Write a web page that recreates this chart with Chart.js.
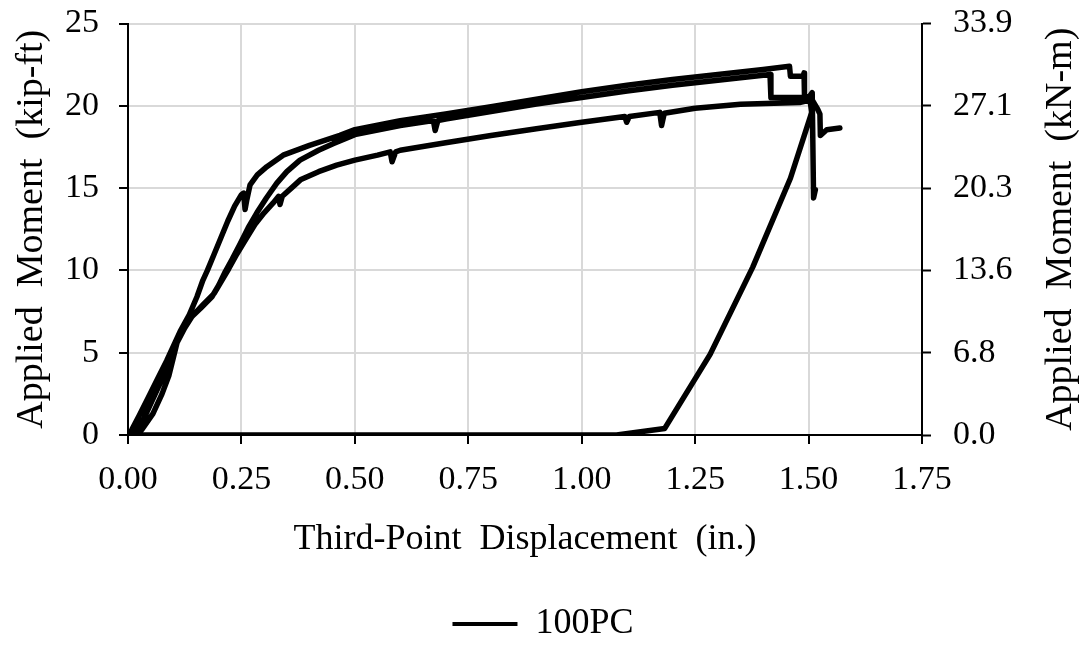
<!DOCTYPE html>
<html>
<head>
<meta charset="utf-8">
<script src="https://cdn.jsdelivr.net/npm/chart.js@4"></script>
<style>
  html, body { margin: 0; padding: 0; background: #ffffff; }
  #wrap { width: 1086px; height: 647px; position: relative; }
</style>
</head>
<body>
<div id="wrap"><canvas id="c" width="1086" height="647"></canvas></div>
<script>
// ---------- data (x = third-point displacement, in.; y = applied moment, kip-ft) ----------
const seriesName = '100PC';
const xTickLabels = ['0.00','0.25','0.50','0.75','1.00','1.25','1.50','1.75'];
const leftTickLabels = ['0','5','10','15','20','25'];
const rightTickLabels = ['0.0','6.8','13.6','20.3','27.1','33.9'];

// first loading (lowest branch)
const loadC = [
  [0,0],[0.03,0.3],[0.055,1.3],[0.075,2.5],[0.09,3.6],[0.1,4.7],[0.108,5.6],[0.125,6.5],
  [0.141,7.2],[0.165,7.9],[0.19,8.6],[0.205,9.3],[0.222,10.1],[0.24,11.0],[0.26,11.9],
  [0.28,12.8],[0.30,13.5],[0.32,14.1],[0.332,14.5],[0.335,14.0],[0.34,14.5],[0.36,15.0],
  [0.38,15.5],[0.42,16.0],[0.46,16.4],[0.5,16.7],[0.55,17.0],[0.578,17.2],[0.582,16.6],
  [0.59,17.2],[0.6,17.3],[0.7,17.75],[0.8,18.2],[0.9,18.6],[1.0,19.0],[1.095,19.35],
  [1.099,19.0],[1.105,19.35],[1.172,19.6],[1.176,18.8],[1.182,19.55],[1.25,19.85],
  [1.35,20.1],[1.48,20.2],[1.503,20.35]
];
// unloading back to zero
const unload = [
  [1.507,19.6],[1.46,15.6],[1.377,10.2],[1.283,4.9],[1.183,0.4],[1.077,0],[0,0]
];
// second loading (middle branch)
const loadB = [
  [0,0],[0.015,0.2],[0.035,1.0],[0.055,2.2],[0.075,3.4],[0.09,4.5],[0.103,5.5],[0.12,6.4],
  [0.141,7.2],[0.16,7.7],[0.185,8.4],[0.2,9.1],[0.214,9.9],[0.23,10.7],[0.247,11.6],
  [0.265,12.6],[0.284,13.5],[0.305,14.4],[0.328,15.3],[0.35,16.0],[0.379,16.7],[0.42,17.3],
  [0.452,17.7],[0.5,18.25],[0.6,18.8],[0.673,19.1],[0.677,18.5],[0.683,19.1],[0.7,19.2],
  [0.8,19.65],[0.9,20.1],[1.0,20.5],[1.1,20.9],[1.2,21.25],[1.3,21.55],[1.4,21.85],
  [1.415,21.9],[1.417,20.5],[1.5,20.5],[1.508,20.8],[1.511,14.4],[1.515,14.9]
];
// third loading (stiffest branch, highest peak)
const loadA = [
  [0,0],[0.008,0.3],[0.025,1.2],[0.045,2.3],[0.065,3.4],[0.085,4.5],[0.1,5.4],[0.115,6.3],
  [0.135,7.3],[0.152,8.4],[0.165,9.4],[0.175,10.0],[0.19,11.0],[0.205,12.0],[0.22,13.0],
  [0.235,13.9],[0.25,14.6],[0.255,14.7],[0.258,13.7],[0.262,14.3],[0.269,15.2],[0.285,15.8],
  [0.306,16.3],[0.342,17.0],[0.4,17.6],[0.467,18.2],[0.5,18.55],[0.6,19.1],[0.7,19.5],
  [0.8,19.95],[0.9,20.4],[1.0,20.85],[1.1,21.25],[1.2,21.6],[1.3,21.9],[1.4,22.2],
  [1.458,22.4],[1.46,21.8],[1.488,21.8],[1.49,22.0],[1.491,20.6],[1.505,20.5],[1.52,19.8],
  [1.525,19.5],[1.526,18.2],[1.54,18.55],[1.569,18.65]
];

// ---------- build one series with breaks between test runs ----------
function toPts(arr) { return arr.map(p => ({x: p[0], y: p[1]})); }
const gap = {x: 0, y: null};
const seriesData = [].concat(toPts(loadC), toPts(unload), [gap], toPts(loadB), [gap], toPts(loadA));

const FONT = '"Liberation Serif", "Times New Roman", serif';

const rightTitlePlugin = {
  id: 'rightTitle',
  afterDraw(chart) {
    const ctx = chart.ctx;
    const a = chart.chartArea;
    ctx.save();
    ctx.fillStyle = '#000';
    ctx.font = '38px ' + FONT;
    ctx.textAlign = 'center';
    ctx.textBaseline = 'middle';
    ctx.translate(1061, (a.top + a.bottom) / 2);
    ctx.rotate(-Math.PI / 2);
    ctx.fillText('Applied  Moment  (kN-m)', 0, 0);
    ctx.restore();
  }
};

function fitVertical(width) {
  return function (s) {
    s.width = width;
    s.paddingTop = 0;
    s.paddingBottom = 0;
  };
}

new Chart(document.getElementById('c'), {
  type: 'scatter',
  data: {
    datasets: [{
      label: seriesName,
      data: seriesData,
      showLine: true,
      spanGaps: false,
      borderColor: '#000000',
      backgroundColor: '#000000',
      borderWidth: 5.5,
      pointRadius: 0,
      pointHoverRadius: 0,
      tension: 0,
      borderJoinStyle: 'round',
      borderCapStyle: 'round'
    }]
  },
  options: {
    responsive: false,
    animation: false,
    events: [],
    layout: { padding: { top: 23.5, left: 0, right: 0, bottom: -5 } },
    plugins: {
      tooltip: { enabled: false },
      legend: {
        display: true,
        position: 'bottom',
        labels: {
          color: '#000',
          font: { family: FONT, size: 36 },
          boxWidth: 65,
          boxHeight: 4,
          padding: 9,
          generateLabels(chart) {
            const items = Chart.defaults.plugins.legend.labels.generateLabels(chart);
            items.forEach(it => { it.lineWidth = 0; it.fillStyle = '#000'; });
            return items;
          }
        }
      }
    },
    scales: {
      x: {
        type: 'linear',
        position: 'bottom',
        min: 0, max: 1.75,
        afterFit(s) { s.height = 162; },
        afterBuildTicks(s) { s.ticks = xTickLabels.map((t, i) => ({value: i * 0.25})); },
        ticks: {
          color: '#000',
          font: { family: FONT, size: 34 },
          padding: 16,
          maxRotation: 0,
          callback: (v, i) => xTickLabels[i]
        },
        grid: { color: '#d9d9d9', lineWidth: 2, tickColor: '#000', tickWidth: 2, tickLength: 9 },
        border: { color: '#000', width: 2 },
        title: {
          display: true,
          text: 'Third-Point  Displacement  (in.)',
          color: '#000',
          font: { family: FONT, size: 36 },
          padding: { top: 0, bottom: 36 }
        }
      },
      y: {
        type: 'linear',
        position: 'left',
        min: 0, max: 25,
        afterFit: fitVertical(128),
        afterBuildTicks(s) { s.ticks = leftTickLabels.map((t, i) => ({value: i * 5})); },
        ticks: {
          color: '#000',
          font: { family: FONT, size: 34 },
          padding: 20,
          callback: (v, i) => leftTickLabels[i]
        },
        grid: { color: '#d9d9d9', lineWidth: 2, tickColor: '#000', tickWidth: 2, tickLength: 9 },
        border: { color: '#000', width: 2 },
        title: {
          display: true,
          text: 'Applied  Moment  (kip-ft)',
          color: '#000',
          font: { family: FONT, size: 38 },
          padding: { top: 9, bottom: 0 }
        }
      },
      y2: {
        type: 'linear',
        position: 'right',
        min: 0, max: 25,
        afterFit: fitVertical(164),
        afterBuildTicks(s) { s.ticks = rightTickLabels.map((t, i) => ({value: i * 5})); },
        ticks: {
          color: '#000',
          font: { family: FONT, size: 34 },
          padding: 22,
          callback: (v, i) => rightTickLabels[i]
        },
        grid: { drawOnChartArea: false, tickColor: '#000', tickWidth: 2, tickLength: 9 },
        border: { color: '#000', width: 2 }
      }
    }
  },
  plugins: [rightTitlePlugin]
});
</script>
</body>
</html>
